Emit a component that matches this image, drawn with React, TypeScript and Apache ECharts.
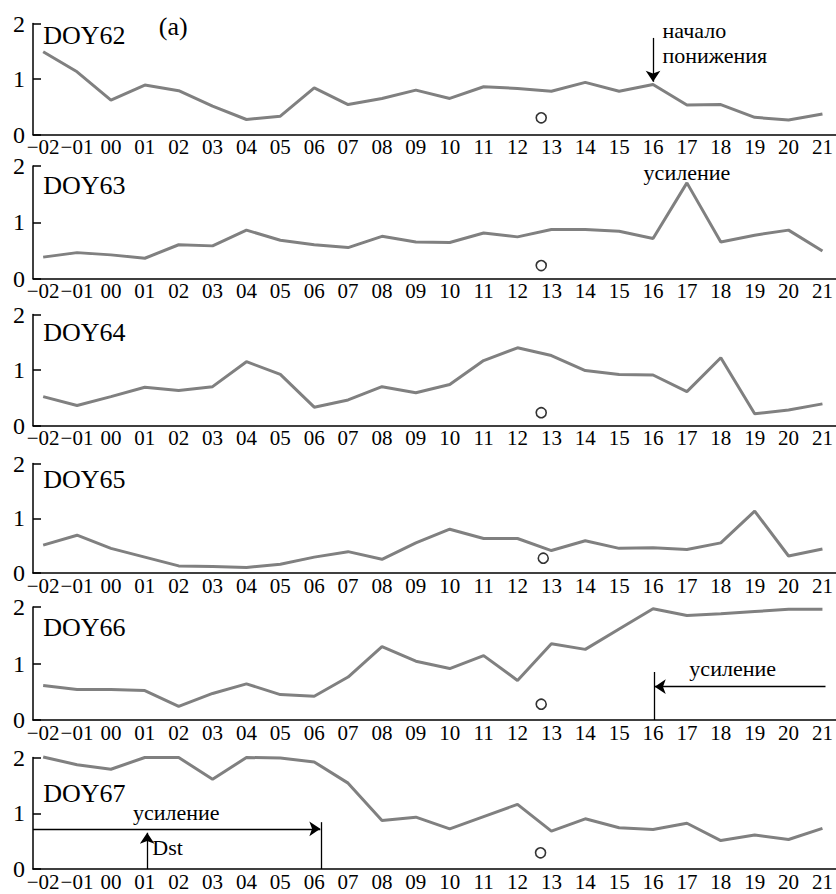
import React, { useEffect, useRef } from "react";
import * as echarts from "echarts";

const XLABELS = ["−02", "−01", "00", "01", "02", "03", "04", "05", "06", "07", "08", "09", "10", "11", "12", "13", "14", "15", "16", "17", "18", "19", "20", "21"];
const PANEL_NAMES = ["DOY62", "DOY63", "DOY64", "DOY65", "DOY66", "DOY67"];

const DOY62 = [1.49, 1.13, 0.62, 0.89, 0.79, 0.51, 0.27, 0.33, 0.84, 0.54, 0.65, 0.8, 0.65, 0.86, 0.83, 0.78, 0.94, 0.78, 0.9, 0.53, 0.54, 0.31, 0.26, 0.37];
const DOY63 = [0.38, 0.46, 0.42, 0.36, 0.6, 0.58, 0.86, 0.68, 0.6, 0.55, 0.75, 0.65, 0.64, 0.81, 0.74, 0.87, 0.87, 0.84, 0.71, 1.7, 0.65, 0.77, 0.86, 0.49];
const DOY64 = [0.52, 0.36, 0.52, 0.69, 0.63, 0.7, 1.15, 0.92, 0.33, 0.46, 0.7, 0.59, 0.74, 1.17, 1.4, 1.26, 0.99, 0.92, 0.91, 0.61, 1.22, 0.21, 0.28, 0.39];
const DOY65 = [0.51, 0.69, 0.45, 0.29, 0.13, 0.12, 0.1, 0.16, 0.29, 0.39, 0.25, 0.55, 0.8, 0.63, 0.63, 0.41, 0.59, 0.45, 0.46, 0.43, 0.55, 1.13, 0.31, 0.44];
const DOY66 = [0.61, 0.54, 0.54, 0.52, 0.24, 0.47, 0.64, 0.45, 0.42, 0.76, 1.3, 1.04, 0.91, 1.14, 0.7, 1.35, 1.25, 1.61, 1.97, 1.85, 1.88, 1.92, 1.96, 1.96];
const DOY67 = [2.01, 1.87, 1.79, 2.0, 2.0, 1.61, 2.0, 1.99, 1.92, 1.54, 0.87, 0.93, 0.72, 0.94, 1.16, 0.68, 0.9, 0.74, 0.71, 0.82, 0.51, 0.61, 0.53, 0.73];
const SERIES = [DOY62, DOY63, DOY64, DOY65, DOY66, DOY67];

// open circle marker per panel (x in category-index units, y value)
const CIRCLE_X = [14.7, 14.7, 14.7, 14.76, 14.7, 14.68];
const CIRCLE_Y = [0.3, 0.23, 0.23, 0.27, 0.28, 0.29];

// arrows: [panel, x1, y1, x2, y2] (arrowhead at second point)
const ARROWS: number[][] = [
  [0, 18, 1.74, 18, 0.95],
  [4, 23.09, 0.59, 18.05, 0.59],
  [5, -0.3, 0.72, 8.18, 0.72],
  [5, 3.07, 0, 3.07, 0.65],
];
// plain lines: [panel, x1, y1, x2, y2]
const LINES: number[][] = [
  [4, 18.05, 0.85, 18.05, 0],
  [5, 8.2, 0.84, 8.2, 0],
];
// texts: [panel, x, y, text, align, size]
const NAME_Y = [1.78, 1.65, 1.67, 1.7, 1.63, 1.36];
const NOTES: [number, number, number, string, string, number][] = [
  [0, 3.84, 1.94, "(a)", "center", 26],
  [0, 18.28, 1.88, "начало", "left", 22],
  [0, 18.28, 1.43, "понижения", "left", 22],
  [1, 19, 1.89, "усиление", "center", 22],
  [4, 20.35, 0.91, "усиление", "center", 22],
  [5, 3.93, 1.01, "усиление", "center", 22],
  [5, 3.22, 0.38, "Dst", "left", 22],
];

// layout
const GRID_TOP = [23.5, 166, 314.5, 463.5, 607, 757.5];
const GRID_H = [111, 112.5, 111, 109.5, 113, 111.5];
const FONT = "Liberation Serif";

export default function App() {
  const ref = useRef<HTMLDivElement>(null);
  useEffect(() => {
    if (!ref.current) return;
    const chart = echarts.init(ref.current, null, { renderer: "svg" });
    const axisLine = { show: true, onZero: false, lineStyle: { color: "#000", width: 1.5 } };
    const option: any = {
      animation: false,
      backgroundColor: "#fff",
      textStyle: { fontFamily: FONT },
      grid: GRID_TOP.map((t, k) => ({ left: 33, right: 0, top: t, height: GRID_H[k] })),
      xAxis: SERIES.map((_, k) => ({
        type: "value",
        gridIndex: k,
        min: -0.3,
        max: 23.4,
        splitLine: { show: false },
        axisLine,
        axisTick: { show: false },
        axisLabel: {
          customValues: XLABELS.map((_, i) => i),
          formatter: (v: number) => XLABELS[Math.round(v)] ?? "",
          showMinLabel: true,
          showMaxLabel: true,
          hideOverlap: false,
          fontFamily: FONT,
          fontSize: 21,
          color: "#000",
          margin: 2,
        },
      })),
      yAxis: SERIES.map((_, k) => ({
        type: "value",
        gridIndex: k,
        min: 0,
        max: 2,
        interval: 1,
        splitLine: { show: false },
        axisLine,
        axisTick: { show: true, inside: true, length: 8, lineStyle: { color: "#000", width: 1.5 } },
        axisLabel: { fontFamily: FONT, fontSize: 24, color: "#000", margin: 8, showMinLabel: true, showMaxLabel: true },
      })),
      series: [
        ...SERIES.map((vals, k) => ({
          type: "line",
          xAxisIndex: k,
          yAxisIndex: k,
          data: vals.map((v, i) => [i, v]),
          symbol: "none",
          showSymbol: false,
          clip: false,
          silent: true,
          lineStyle: { color: "#808080", width: 3 },
          markLine: {
            silent: true,
            symbol: ["none", "arrow"],
            symbolSize: 11,
            label: { show: false },
            lineStyle: { color: "#000", width: 1.3, type: "solid" },
            data: ARROWS.filter((a) => a[0] === k).map((a) => [{ coord: [a[1], a[2]] }, { coord: [a[3], a[4]] }]),
          },
        })),
        ...SERIES.map((_, k) => ({
          type: "scatter",
          xAxisIndex: k,
          yAxisIndex: k,
          data: [[CIRCLE_X[k], CIRCLE_Y[k]]],
          symbol: "circle",
          symbolSize: 10,
          silent: true,
          itemStyle: { color: "#fff", borderColor: "#000", borderWidth: 1.6 },
          markLine: {
            silent: true,
            symbol: ["none", "none"],
            label: { show: false },
            lineStyle: { color: "#000", width: 1.3, type: "solid" },
            data: LINES.filter((a) => a[0] === k).map((a) => [{ coord: [a[1], a[2]] }, { coord: [a[3], a[4]] }]),
          },
        })),
      ],
    };
    chart.setOption(option);

    const texts: any[] = [];
    const mk = (k: number, x: number, y: number, text: string, align: string, size: number) => {
      const p = chart.convertToPixel({ xAxisIndex: k, yAxisIndex: k } as any, [x, y]) as number[];
      texts.push({
        type: "text",
        x: p[0],
        y: p[1],
        silent: true,
        style: {
          text,
          fontFamily: FONT,
          fontSize: size,
          fill: "#000",
          align,
          textAlign: align,
          verticalAlign: "middle",
          textVerticalAlign: "middle",
        },
      });
    };
    PANEL_NAMES.forEach((n, k) => mk(k, 0, NAME_Y[k], n, "left", 26));
    NOTES.forEach((t) => mk(t[0], t[1], t[2], t[3], t[4], t[5]));
    chart.setOption({ graphic: texts });

    return () => chart.dispose();
  }, []);
  return <div ref={ref} style={{ position: "absolute", left: 0, top: 0, width: 836, height: 894 }} />;
}
